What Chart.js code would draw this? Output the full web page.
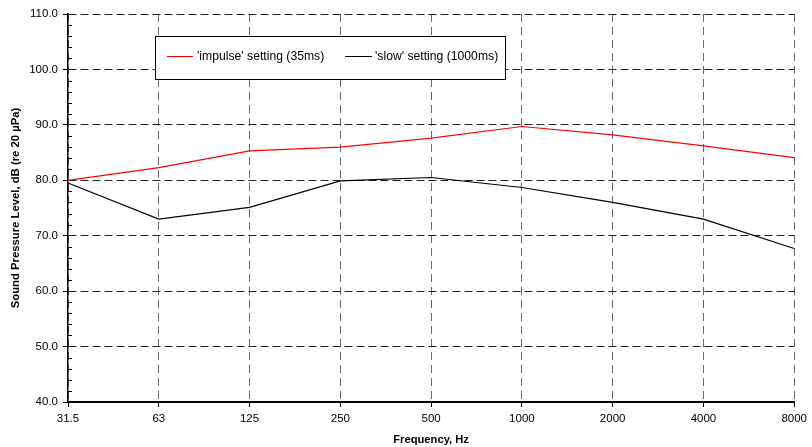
<!DOCTYPE html>
<html>
<head>
<meta charset="utf-8">
<script src="https://cdn.jsdelivr.net/npm/chart.js@4.4.0/dist/chart.umd.min.js"></script>
<style>
  html, body { margin: 0; padding: 0; background: #fff; }
  #wrap { width: 812px; height: 447px; }
</style>
</head>
<body>
<div id="wrap"><canvas id="c" width="812" height="447"></canvas></div>
<script>
const categories = ['31.5', '63', '125', '250', '500', '1000', '2000', '4000', '8000'];
const impulseValues = [80.0, 82.3, 85.3, 86.0, 87.6, 89.7, 88.2, 86.2, 84.1];
const slowValues = [79.5, 73.0, 75.1, 79.9, 80.5, 78.7, 76.0, 73.0, 67.7];
const seriesLabels = ["'impulse' setting (35ms)", "'slow' setting (1000ms)"];
const yMin = 40, yMax = 110, yStep = 10, yMinorStep = 2;

const FONT = 'Arial, "Liberation Sans", sans-serif';

const minorTicks = {
  id: 'minorTicks',
  afterDraw(chart) {
    const y = chart.scales.y;
    const ctx = chart.ctx;
    const left = chart.chartArea.left;
    ctx.save();
    ctx.strokeStyle = '#000';
    ctx.lineWidth = 1;
    for (let v = yMin; v <= yMax; v += yMinorStep) {
      if (v % yStep === 0) continue;
      const py = Math.round(y.getPixelForValue(v)) + 0.5;
      ctx.beginPath();
      ctx.moveTo(left, py);
      ctx.lineTo(left + 4, py);
      ctx.stroke();
    }
    ctx.restore();
  }
};

const boxLegend = {
  id: 'boxLegend',
  afterDraw(chart) {
    const ctx = chart.ctx;
    ctx.save();
    ctx.fillStyle = '#fff';
    ctx.fillRect(155, 36, 351, 44);
    ctx.strokeStyle = '#000';
    ctx.lineWidth = 1;
    ctx.strokeRect(155.5, 36.5, 350, 43);
    const items = [
      { x1: 167, x2: 193, tx: 197 },
      { x1: 345, x2: 372, tx: 375 }
    ];
    ctx.font = '12.2px ' + FONT;
    ctx.textBaseline = 'middle';
    ctx.textAlign = 'left';
    chart.data.datasets.forEach((ds, i) => {
      const it = items[i];
      ctx.strokeStyle = ds.borderColor;
      ctx.lineWidth = 1;
      ctx.beginPath();
      ctx.moveTo(it.x1, 56.5);
      ctx.lineTo(it.x2, 56.5);
      ctx.stroke();
      ctx.fillStyle = '#000';
      ctx.fillText(ds.label, it.tx, 56.5);
    });
    ctx.restore();
  }
};

new Chart(document.getElementById('c'), {
  type: 'line',
  data: {
    labels: categories,
    datasets: [
      { label: seriesLabels[0], data: impulseValues, borderColor: '#ff0000', borderWidth: 1.2, pointRadius: 0, tension: 0, fill: false },
      { label: seriesLabels[1], data: slowValues, borderColor: '#000000', borderWidth: 1.2, pointRadius: 0, tension: 0, fill: false }
    ]
  },
  options: {
    responsive: false,
    animation: false,
    events: [],
    layout: { padding: { left: 0, right: 13, top: 14, bottom: 0 } },
    plugins: { legend: { display: false }, tooltip: { enabled: false } },
    scales: {
      x: {
        type: 'category',
        offset: false,
        afterFit(scale) { scale.height = 45; },
        grid: {
          color: '#666',
          lineWidth: 1,
          tickColor: '#000',
          tickLength: 5,
          tickBorderDash: [],
          drawTicks: true
        },
        border: { display: true, color: '#000', width: 2, dash: [8, 5] },
        ticks: {
          color: '#000',
          font: { family: FONT, size: 11.5 },
          padding: 5,
          maxRotation: 0,
          autoSkip: false
        },
        title: {
          display: true,
          text: 'Frequency, Hz',
          color: '#000',
          font: { family: FONT, size: 11.2, weight: 'bold', lineHeight: 1.2 },
          padding: { top: 0, bottom: 0 }
        }
      },
      y: {
        min: yMin,
        max: yMax,
        afterFit(scale) { scale.width = 68; },
        grid: {
          color: '#222',
          lineWidth: 1,
          tickColor: '#000',
          tickLength: 5,
          tickBorderDash: []
        },
        border: { display: true, color: '#000', width: 1.5, dash: [8, 4] },
        ticks: {
          stepSize: yStep,
          color: '#000',
          font: { family: FONT, size: 11.5 },
          padding: 5,
          callback: (v) => Number(v).toFixed(1)
        },
        title: {
          display: true,
          text: 'Sound Pressure Level, dB (re 20 µPa)',
          color: '#000',
          font: { family: FONT, size: 11.3, weight: 'bold', lineHeight: 1.2 },
          padding: { top: 9, bottom: 4 }
        }
      }
    }
  },
  plugins: [minorTicks, boxLegend]
});
</script>
</body>
</html>
